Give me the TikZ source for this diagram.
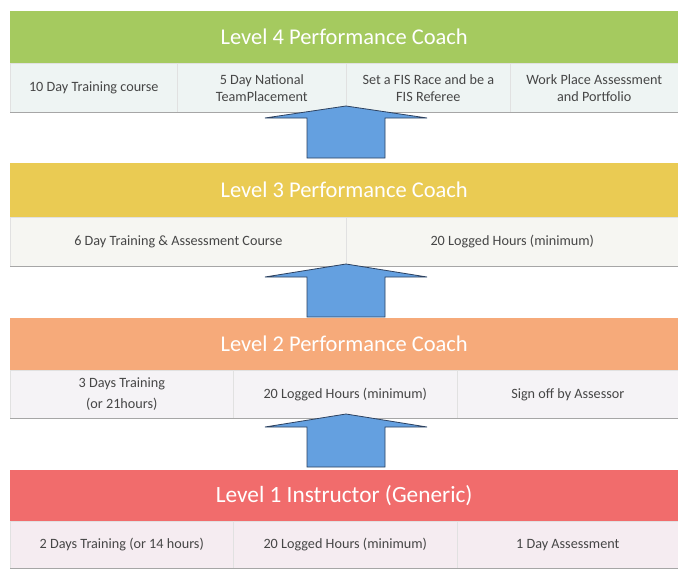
\documentclass[tikz,border=0pt]{standalone}
\usepackage{fontspec}
\setmainfont{Carlito}
\definecolor{lfour}{RGB}{165,202,95}
\definecolor{lthree}{RGB}{234,203,83}
\definecolor{ltwo}{RGB}{246,170,122}
\definecolor{lone}{RGB}{241,108,108}
\definecolor{sfour}{RGB}{238,244,243}
\definecolor{sthree}{RGB}{246,246,242}
\definecolor{stwo}{RGB}{245,243,246}
\definecolor{sone}{RGB}{245,236,241}
\definecolor{celltext}{RGB}{70,70,70}
\definecolor{arrowfill}{RGB}{100,160,224}
\definecolor{arrowline}{RGB}{45,65,95}
\definecolor{divline}{RGB}{225,225,225}
\begin{document}
\begin{tikzpicture}[x=1pt,y=-1pt,
  hdr/.style={anchor=north west, inner sep=0pt, minimum width=668pt, text=white, font=\fontsize{22.5}{24}\selectfont},
  cell/.style={anchor=north west, inner sep=0pt, draw=divline, line width=0.6pt, text=celltext, align=center, font=\fontsize{14.2}{17}\selectfont},
  shade/.style={draw=gray!70, line width=0.8pt},
  uparrow/.style={fill=arrowfill, draw=arrowline, line width=0.8pt, line join=miter}
]
\useasboundingbox (0,0) rectangle (678,570);
\fill[white] (0,0) rectangle (678,570);

% Level 4
\node[hdr, fill=lfour, minimum height=52pt] (h4) at (10,11) {Level 4 Performance Coach};
\node[cell, fill=sfour, minimum width=167pt, minimum height=49pt] (c41) at (10,63) {10 Day Training course};
\node[cell, fill=sfour, minimum width=169pt, minimum height=49pt] (c42) at (177,63) {5 Day National\\TeamPlacement};
\node[cell, fill=sfour, minimum width=164pt, minimum height=49pt] (c43) at (346,63) {Set a FIS Race and be a\\FIS Referee};
\node[cell, fill=sfour, minimum width=168pt, minimum height=49pt] (c44) at (510,63) {Work Place Assessment\\and Portfolio};
\draw[shade] (c41.south west) -- (c44.south east);

% Level 3
\node[hdr, fill=lthree, minimum height=54pt] (h3) at (10,163) {Level 3 Performance Coach};
\node[cell, fill=sthree, minimum width=336pt, minimum height=49pt] (c31) at (10,217) {6 Day Training \& Assessment Course};
\node[cell, fill=sthree, minimum width=332pt, minimum height=49pt] (c32) at (346,217) {20 Logged Hours (minimum)};
\draw[shade] (c31.south west) -- (c32.south east);

% Level 2
\node[hdr, fill=ltwo, minimum height=52pt] (h2) at (10,318) {Level 2 Performance Coach};
\node[cell, fill=stwo, minimum width=223pt, minimum height=48pt, font=\fontsize{14.2}{21}\selectfont] (c21) at (10,370) {3 Days Training\\(or 21hours)};
\node[cell, fill=stwo, minimum width=224pt, minimum height=48pt] (c22) at (233,370) {20 Logged Hours (minimum)};
\node[cell, fill=stwo, minimum width=221pt, minimum height=48pt] (c23) at (457,370) {Sign off by Assessor};
\draw[shade] (c21.south west) -- (c23.south east);

% Level 1
\node[hdr, fill=lone, minimum height=51pt, font=\fontsize{23.3}{25}\selectfont] (h1) at (10,470) {Level 1 Instructor (Generic)};
\node[cell, fill=sone, minimum width=223pt, minimum height=47pt] (c11) at (10,521) {2 Days Training (or 14 hours)};
\node[cell, fill=sone, minimum width=224pt, minimum height=47pt] (c12) at (233,521) {20 Logged Hours (minimum)};
\node[cell, fill=sone, minimum width=221pt, minimum height=47pt] (c13) at (457,521) {1 Day Assessment};
\draw[shade] (c11.south west) -- (c13.south east);

% block arrows
\coordinate (a3) at (346,106);
\coordinate (a2) at (346,264);
\coordinate (a1) at (346,414);
\draw[uparrow] (a3) -- ++(81,12) -- ++(-42,0) -- ++(0,40) -- ++(-78,0) -- ++(0,-40) -- ++(-42,0) -- cycle;
\draw[uparrow] (a2) -- ++(81,13) -- ++(-42,0) -- ++(0,40) -- ++(-78,0) -- ++(0,-40) -- ++(-42,0) -- cycle;
\draw[uparrow] (a1) -- ++(81,13) -- ++(-42,0) -- ++(0,40) -- ++(-78,0) -- ++(0,-40) -- ++(-42,0) -- cycle;
\end{tikzpicture}
\end{document}
